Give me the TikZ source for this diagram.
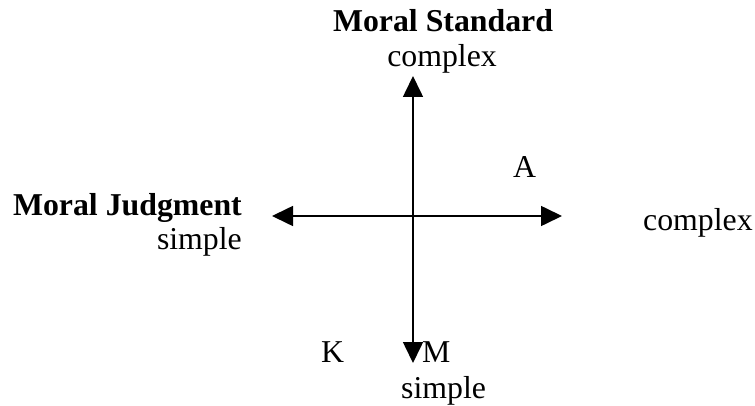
\documentclass[tikz,border=0pt]{standalone}
\usepackage{fontspec}
\setmainfont{Liberation Serif}
\usetikzlibrary{arrows.meta}
\begin{document}
\begin{tikzpicture}[x=1pt,y=-1pt,
  lbl/.style={inner sep=0pt,font=\fontsize{31.8}{36}\selectfont},
  axis/.style={line width=1.6pt,-{Triangle[length=21pt,width=20pt]}}]
\useasboundingbox (0,0) rectangle (755,406);
\coordinate (c) at (413,216);
\coordinate (top) at (413,76);
\coordinate (bot) at (413,363);
\coordinate (left) at (272,216);
\coordinate (right) at (562,216);
\draw[axis] (c) -- (top);
\draw[axis] (c) -- (bot);
\draw[axis] (c) -- (left);
\draw[axis] (c) -- (right);
\node[lbl,anchor=base,font=\fontsize{31.8}{36}\selectfont\bfseries] (ms) at (443,32) {Moral Standard};
\node[lbl,anchor=base] (mscx) at (442,67) {complex};
\node[lbl,anchor=base east,font=\fontsize{31.8}{36}\selectfont\bfseries] (mj) at (242,215) {Moral Judgment};
\node[lbl,anchor=base east] (mjs) at (242,250) {simple};
\node[lbl,anchor=base west] (a) at (513,178) {A};
\node[lbl,anchor=base west] (cx) at (643,230) {complex};
\node[lbl,anchor=base west] (k) at (321,362) {K};
\node[lbl,anchor=base west] (m) at (422,362) {M};
\node[lbl,anchor=base west] (s) at (401,398) {simple};
\end{tikzpicture}
\end{document}
